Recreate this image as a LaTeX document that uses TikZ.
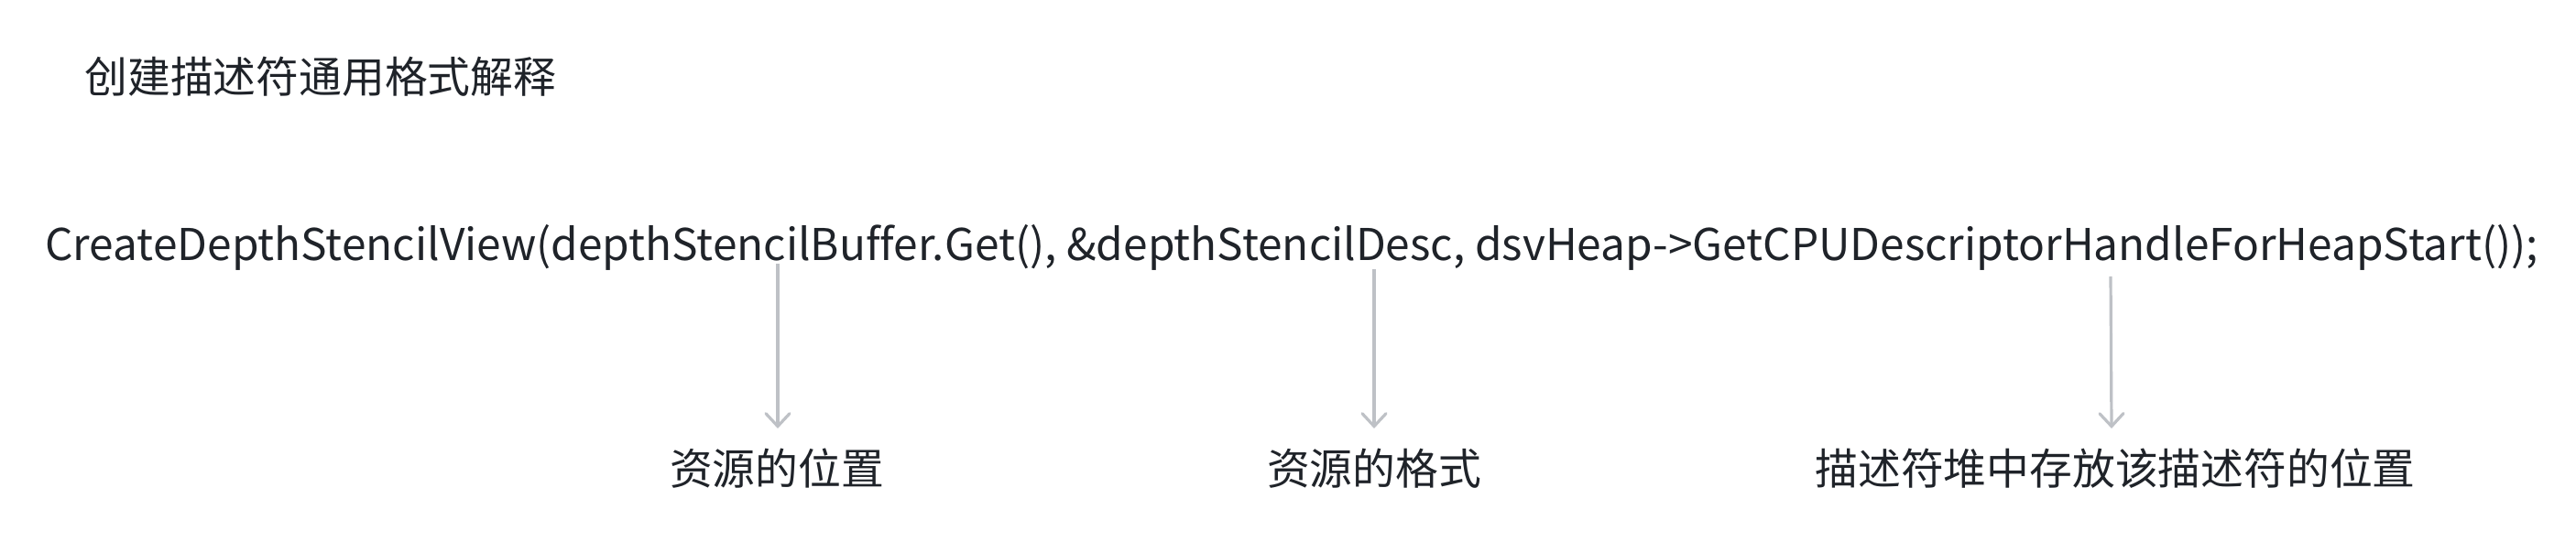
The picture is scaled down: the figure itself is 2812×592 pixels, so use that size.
\documentclass[tikz,border=0pt]{standalone}
\usepackage{fontspec}
\setmainfont{Noto Sans CJK SC}
\newfontfamily\codefont[Ligatures=NoCommon]{Noto Sans CJK SC}
\usetikzlibrary{arrows.meta}
\definecolor{txt}{RGB}{31,35,41}
\definecolor{arrc}{RGB}{190,193,198}
\tikzset{
  x=0.5pt, y=-0.5pt,
  lbl/.style={text=txt, font=\fontsize{23.4pt}{28pt}\selectfont, inner sep=0pt},
  code/.style={text=txt, font=\codefont\fontsize{23.9pt}{29pt}\selectfont, inner sep=0pt},
  arr/.style={draw=arrc, line width=1.6pt, -{Straight Barb[length=7pt,width=13pt,line cap=round]}}
}
\begin{document}
\begin{tikzpicture}
\useasboundingbox (0,0) rectangle (2812,592);
\node[lbl, anchor=west] (title) at (92,84) {创建描述符通用格式解释};
\node[code, anchor=base west] (codeline) at (49,285) {CreateDepthStencilView(depthStencilBuffer.Get(), \&depthStencilDesc, dsvHeap->GetCPUDescriptorHandleForHeapStart());};
\node[lbl] (l1) at (848,512) {资源的位置};
\node[lbl] (l2) at (1500,512) {资源的格式};
\node[lbl] (l3) at (2309,512) {描述符堆中存放该描述符的位置};
\coordinate (s1) at (849,288);
\coordinate (s2) at (1500,294);
\coordinate (s3) at (2304,302);
\coordinate (e1) at (849,468);
\coordinate (e2) at (1500,468);
\coordinate (e3) at (2305,468);
\draw[arr] (s1) -- (e1);
\draw[arr] (s2) -- (e2);
\draw[arr] (s3) -- (e3);
\end{tikzpicture}
\end{document}
